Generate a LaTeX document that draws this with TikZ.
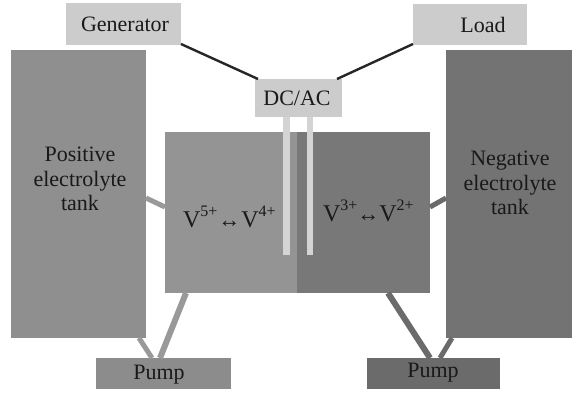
\documentclass[tikz,border=0pt]{standalone}
\usepackage{fontspec}
\setmainfont{Liberation Serif}
\definecolor{boxgray}{gray}{0.80}
\definecolor{tankL}{gray}{0.56}
\definecolor{tankR}{gray}{0.45}
\definecolor{cellL}{gray}{0.58}
\definecolor{cellR}{gray}{0.47}
\definecolor{pumpL}{gray}{0.55}
\definecolor{pumpR}{gray}{0.42}
\definecolor{elec}{gray}{0.83}
\definecolor{pipeL}{gray}{0.60}
\definecolor{pipeR}{gray}{0.42}
\newcommand{\ion}[1]{{\fontsize{24}{24}\selectfont V}\raisebox{0.5em}{\fontsize{16}{16}\selectfont #1}}
\tikzset{
  block/.style={inner sep=0pt,outer sep=0pt,anchor=north west,rectangle},
  lbl/.style={inner sep=0pt,outer sep=0pt,font=\fontsize{22}{24.5}\selectfont,text=black!90,align=center},
  wire/.style={line width=2.4pt,draw=black!85},
  pipe/.style={line width=5pt}
}
\begin{document}
\begin{tikzpicture}[x=1pt,y=-1pt]
\useasboundingbox (0,0) rectangle (572,394);
\fill[white] (0,0) rectangle (572,394);
% blocks
\node[block,fill=boxgray,minimum width=115pt,minimum height=42pt] (gen) at (66,3) {};
\node[block,fill=boxgray,minimum width=114pt,minimum height=41pt] (load) at (413,4) {};
\node[block,fill=boxgray,minimum width=87pt,minimum height=38pt] (dc) at (255,79) {};
\node[block,fill=tankL,minimum width=135pt,minimum height=288pt] (ltank) at (11,50) {};
\node[block,fill=tankR,minimum width=126pt,minimum height=288pt] (rtank) at (446,50) {};
\node[block,fill=cellL,minimum width=132pt,minimum height=161pt] (lcell) at (165,132) {};
\node[block,fill=cellR,minimum width=133pt,minimum height=161pt] (rcell) at (297,132) {};
\node[block,fill=pumpL,minimum width=135pt,minimum height=31pt] (lpump) at (96,358) {};
\node[block,fill=pumpR,minimum width=133pt,minimum height=31pt] (rpump) at (367,358) {};
% free ends of connectors
\coordinate (a1) at (258,79);
\coordinate (a2) at (337,79);
\coordinate (g1) at (181,44);
\coordinate (l1) at (413,44);
\coordinate (p1) at (146,198);
\coordinate (p2) at (165,207);
\coordinate (p3) at (430,207);
\coordinate (p4) at (446,198);
\coordinate (t1) at (139,338);
\coordinate (t2) at (152,358);
\coordinate (c1) at (186,293);
\coordinate (c2) at (160,358);
\coordinate (c3) at (388,293);
\coordinate (c4) at (430,358);
\coordinate (t3) at (452,338);
\coordinate (t4) at (440,358);
% connectors
\draw[wire] (g1) -- (a1);
\draw[wire] (l1) -- (a2);
\draw[pipe,draw=pipeL] (p1) -- (p2);
\draw[pipe,draw=pipeR] (p3) -- (p4);
\draw[pipe,draw=pipeL] (t1) -- (t2);
\draw[pipe,draw=pipeL,line width=6pt] (c1) -- (c2);
\draw[pipe,draw=pipeR,line width=6pt] (c3) -- (c4);
\draw[pipe,draw=pipeR] (t3) -- (t4);
% electrodes
\fill[elec] (283,117) rectangle (290,255);
\fill[elec] (307,117) rectangle (313,255);
% labels
\node[lbl] (tgen) at (125,24) {Generator};
\node[lbl] (tload) at (483,25) {Load};
\node[lbl] (tdc) at (297,98) {DC/AC};
\node[lbl] (tpos) at (80,179) {Positive\\electrolyte\\tank};
\node[lbl] (tneg) at (510,183) {Negative\\electrolyte\\tank};
\node[lbl,anchor=base west] (tl) at (183,227) {\ion{5+}\kern1pt↔\kern1pt\ion{4+}};
\node[lbl,anchor=base west] (tr) at (323,221) {\ion{3+}↔\ion{2+}};
\node[lbl] (tp1) at (159,375) {Pump};
\node[lbl] (tp2) at (433,373) {Pump};
\end{tikzpicture}
\end{document}
